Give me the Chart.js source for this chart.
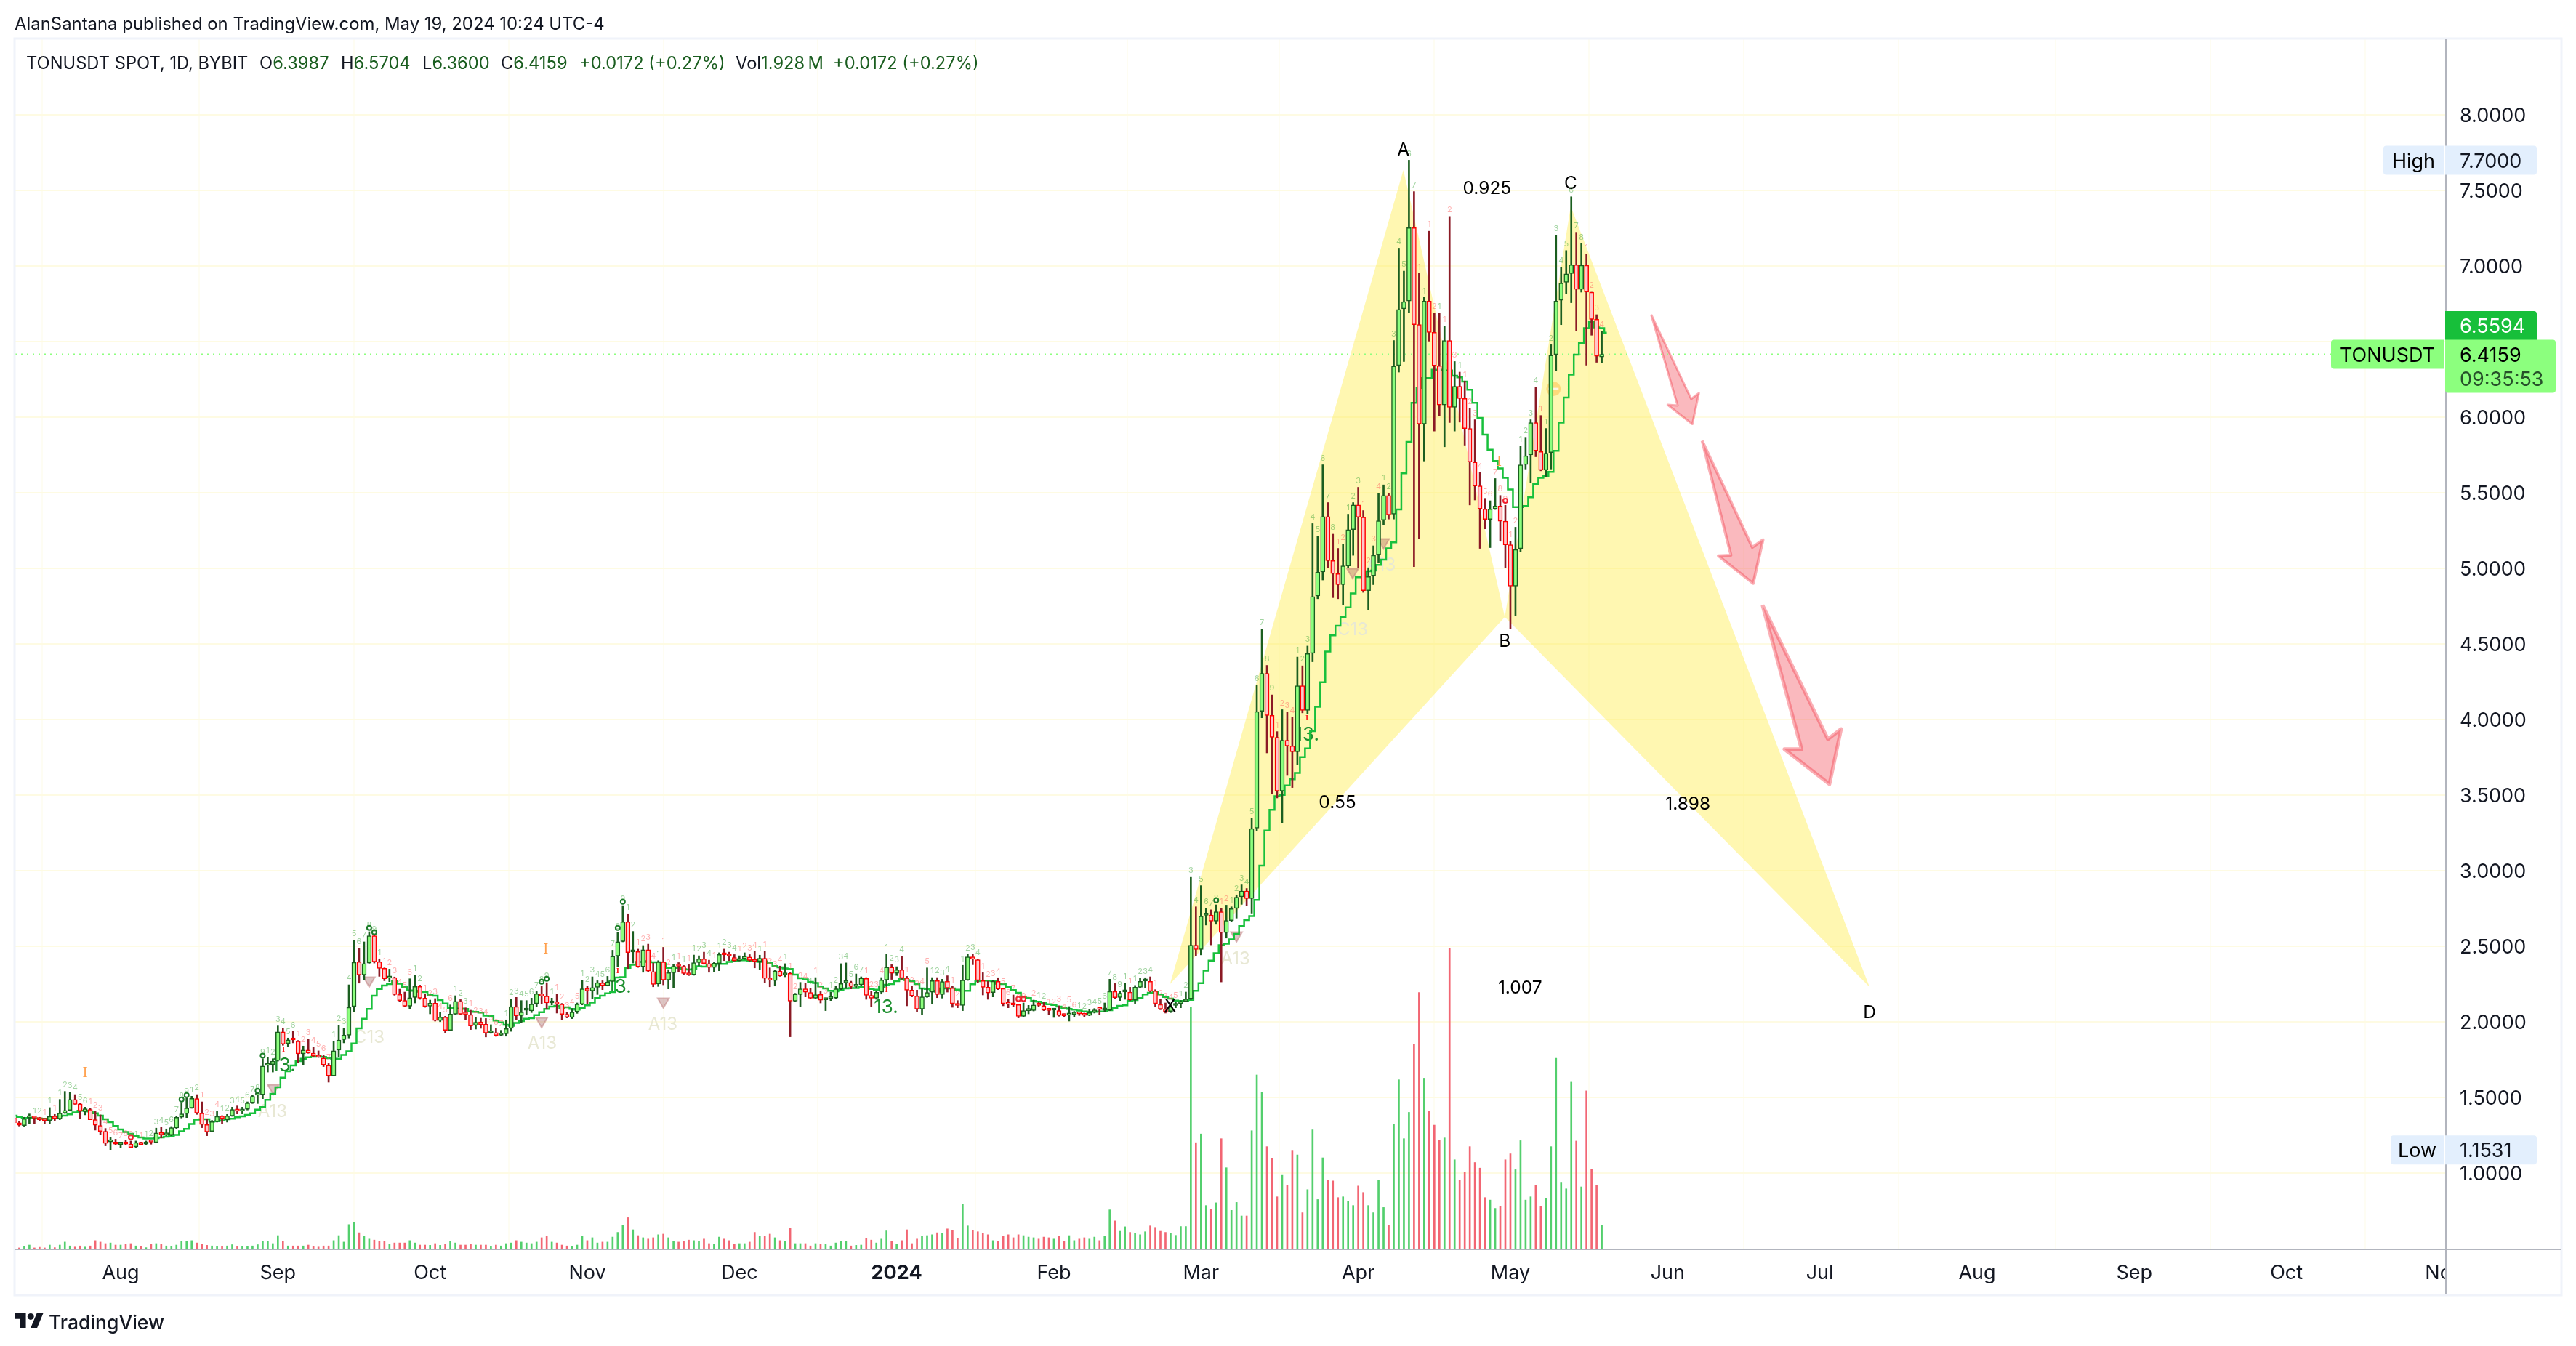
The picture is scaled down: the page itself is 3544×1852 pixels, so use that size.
<!DOCTYPE html>
<html>
<head>
<meta charset="utf-8">
<title>TONUSDT</title>
<script src="https://cdn.jsdelivr.net/npm/chart.js@4/dist/chart.umd.min.js"></script>
<style>
  html, body { margin: 0; padding: 0; background: #fff; }
  #wrap { position: relative; width: 3544px; height: 1852px; overflow: hidden; font-family: Inter, sans-serif; color: #131722; }
  canvas { position: absolute; left: 0; top: 0; }
  .txt { position: absolute; white-space: pre; line-height: 1; }
  .leg { top: 75px; font-size: 23.7px; }
  .up { color: #1b5e20; }
</style>
</head>
<body>
<div id="wrap">
  <canvas id="chart" width="3544" height="1852"></canvas>
  <div class="txt" id="published" style="left:20px;top:21px;font-size:23.9px">AlanSantana published on TradingView.com, May 19, 2024 10:24 UTC-4</div>
  <div class="txt leg" style="left:36px">TONUSDT SPOT, 1D, BYBIT</div>
  <div class="txt leg" style="left:357px">O<span class="up">6.3987</span></div>
  <div class="txt leg" style="left:469px">H<span class="up">6.5704</span></div>
  <div class="txt leg" style="left:581px">L<span class="up">6.3600</span></div>
  <div class="txt leg" style="left:689px">C<span class="up">6.4159</span></div>
  <div class="txt leg up" style="left:797px">+0.0172 (+0.27%)</div>
  <div class="txt leg" style="left:1012px">Vol<span class="up">1.928&thinsp;M</span></div>
  <div class="txt leg up" style="left:1146px">+0.0172 (+0.27%)</div>
  <svg style="position:absolute;left:20px;top:1807px" width="40" height="20" viewBox="0 0 36 18"><path fill="#131722" d="M14 18H7V7H0V0h14zM28 18h-8L27.5 0h8z"/><circle cx="20" cy="4" r="4" fill="#131722"/></svg>
  <div class="txt" id="brand" style="left:67px;top:1806px;font-size:26.5px;font-weight:500">TradingView</div>
</div>
<script>
// candles, one per day. x value = days since 2023-07-01
const firstDay = 10;
const opens = [
  1.364,1.332,1.314,1.365,1.369,1.359,1.356,1.348,1.377,1.359,
  1.397,1.415,1.487,1.457,1.407,1.420,1.353,1.314,1.276,1.206,
  1.204,1.189,1.205,1.191,1.173,1.200,1.192,1.212,1.202,1.266,
  1.252,1.252,1.298,1.369,1.393,1.431,1.492,1.396,1.321,1.276,
  1.340,1.377,1.353,1.378,1.420,1.410,1.422,1.465,1.515,1.519,
  1.712,1.718,1.744,1.933,1.856,1.887,1.872,1.789,1.813,1.793,
  1.772,1.761,1.712,1.644,1.813,1.883,1.912,2.101,2.397,2.311,
  2.389,2.569,2.397,2.354,2.289,2.293,2.181,2.141,2.104,2.162,
  2.234,2.157,2.104,2.123,2.009,2.032,1.944,2.051,2.136,2.056,
  2.048,1.976,2.000,1.984,1.928,1.929,1.912,1.921,1.957,2.101,
  2.041,2.076,2.072,2.120,2.186,2.170,2.125,2.133,2.118,2.050,
  2.029,2.067,2.117,2.218,2.205,2.229,2.258,2.239,2.267,2.436,
  2.532,2.662,2.462,2.465,2.365,2.477,2.333,2.250,2.396,2.277,
  2.325,2.373,2.368,2.320,2.312,2.392,2.417,2.386,2.360,2.386,
  2.449,2.443,2.425,2.405,2.417,2.429,2.407,2.399,2.420,2.288,
  2.273,2.335,2.310,2.321,2.138,2.181,2.218,2.194,2.157,2.181,
  2.146,2.154,2.158,2.218,2.258,2.261,2.234,2.245,2.287,2.175,
  2.157,2.196,2.277,2.362,2.321,2.345,2.290,2.210,2.172,2.085,
  2.165,2.196,2.273,2.181,2.268,2.224,2.120,2.109,2.277,2.430,
  2.411,2.273,2.229,2.194,2.268,2.221,2.122,2.118,2.114,2.037,
  2.074,2.075,2.114,2.107,2.080,2.077,2.074,2.046,2.044,2.050,
  2.056,2.048,2.042,2.064,2.086,2.078,2.077,2.202,2.162,2.198,
  2.197,2.146,2.229,2.270,2.268,2.205,2.115,2.085,2.069,2.108,
  2.120,2.136,2.153,2.507,2.479,2.705,2.706,2.666,2.728,2.590,
  2.670,2.750,2.827,2.865,2.815,3.282,4.055,4.305,4.027,3.882,
  3.527,3.862,3.825,3.787,4.223,4.060,4.438,4.818,4.976,5.342,
  5.051,4.965,4.892,5.016,5.256,5.419,5.338,4.853,4.951,5.090,
  5.319,5.482,5.358,6.342,6.717,6.768,7.253,6.612,5.955,6.768,
  6.561,6.340,6.081,6.507,6.065,6.204,6.123,5.925,5.703,5.545,
  5.393,5.324,5.393,5.412,5.312,5.156,4.883,5.130,5.687,5.750,
  5.964,5.773,5.650,5.766,6.414,6.773,6.892,6.950,7.008,6.845,
  7.004,6.827,6.647,6.3987
];
const highs = [
  1.388,1.340,1.369,1.391,1.369,1.369,1.359,1.433,1.388,1.487,
  1.540,1.535,1.519,1.460,1.436,1.431,1.407,1.385,1.295,1.236,
  1.224,1.205,1.218,1.212,1.212,1.205,1.212,1.220,1.297,1.303,
  1.292,1.308,1.375,1.468,1.497,1.508,1.519,1.471,1.356,1.348,
  1.412,1.380,1.388,1.436,1.444,1.436,1.471,1.513,1.522,1.756,
  1.764,1.756,1.973,1.957,1.893,1.936,1.877,1.840,1.885,1.832,
  1.808,1.781,1.724,1.873,1.976,1.957,2.245,2.539,2.486,2.529,
  2.596,2.571,2.417,2.357,2.349,2.297,2.216,2.197,2.285,2.308,
  2.243,2.181,2.144,2.154,2.061,2.037,2.112,2.173,2.147,2.093,
  2.077,2.032,2.024,2.022,1.981,1.955,1.944,2.013,2.149,2.162,
  2.141,2.141,2.157,2.200,2.237,2.259,2.157,2.183,2.122,2.064,
  2.088,2.125,2.274,2.237,2.298,2.272,2.272,2.301,2.474,2.590,
  2.769,2.715,2.598,2.481,2.505,2.514,2.389,2.405,2.493,2.346,
  2.381,2.392,2.373,2.378,2.442,2.437,2.461,2.408,2.394,2.457,
  2.481,2.461,2.445,2.437,2.457,2.445,2.465,2.441,2.469,2.357,
  2.340,2.369,2.385,2.325,2.189,2.261,2.258,2.221,2.293,2.200,
  2.158,2.197,2.234,2.385,2.390,2.269,2.317,2.298,2.293,2.205,
  2.205,2.293,2.450,2.378,2.365,2.433,2.301,2.234,2.210,2.221,
  2.357,2.293,2.293,2.282,2.305,2.234,2.141,2.374,2.446,2.449,
  2.414,2.325,2.269,2.276,2.292,2.224,2.152,2.178,2.118,2.125,
  2.109,2.144,2.133,2.128,2.090,2.090,2.106,2.053,2.101,2.069,
  2.064,2.058,2.085,2.088,2.093,2.125,2.282,2.253,2.205,2.258,
  2.229,2.241,2.289,2.292,2.298,2.213,2.148,2.125,2.117,2.133,
  2.141,2.197,2.956,2.761,2.901,2.752,2.741,2.774,2.752,2.772,
  2.761,2.840,2.906,2.882,3.348,4.229,4.597,4.358,4.163,3.920,
  4.065,4.049,4.014,4.413,4.355,4.486,5.296,5.214,5.685,5.435,
  5.226,5.132,5.160,5.358,5.435,5.536,5.382,5.004,5.149,5.498,
  5.552,5.498,6.507,7.118,6.966,7.700,7.493,6.950,6.792,7.230,
  6.689,6.687,6.601,7.328,6.368,6.298,6.239,6.060,5.983,5.633,
  5.463,5.447,5.594,5.482,5.417,5.179,5.272,5.808,5.867,5.983,
  6.197,6.011,5.925,6.479,7.202,6.992,7.102,7.458,7.223,7.148,
  7.078,6.827,6.678,6.5704
];
const lows = [
  1.324,1.311,1.308,1.324,1.327,1.343,1.324,1.327,1.348,1.353,
  1.394,1.410,1.455,1.361,1.385,1.353,1.284,1.252,1.180,1.153,
  1.188,1.170,1.188,1.167,1.170,1.185,1.188,1.191,1.199,1.232,
  1.247,1.247,1.292,1.364,1.367,1.428,1.388,1.300,1.247,1.272,
  1.337,1.324,1.337,1.375,1.391,1.391,1.417,1.460,1.460,1.492,
  1.668,1.668,1.740,1.845,1.837,1.861,1.728,1.716,1.792,1.768,
  1.764,1.704,1.601,1.644,1.769,1.861,1.893,2.069,2.256,2.277,
  2.388,2.389,2.301,2.272,2.266,2.176,2.133,2.101,2.085,2.125,
  2.149,2.096,2.053,2.005,2.001,1.929,1.944,2.048,2.048,2.013,
  1.949,1.952,1.957,1.900,1.924,1.904,1.910,1.905,1.937,2.013,
  1.992,2.048,2.061,2.101,2.117,2.088,2.112,2.058,2.016,2.026,
  2.021,2.056,2.112,2.120,2.154,2.181,2.213,2.237,2.265,2.365,
  2.529,2.352,2.389,2.360,2.328,2.333,2.232,2.234,2.245,2.218,
  2.226,2.330,2.314,2.306,2.308,2.372,2.381,2.328,2.333,2.338,
  2.405,2.405,2.402,2.402,2.413,2.400,2.357,2.346,2.261,2.232,
  2.237,2.301,2.298,1.901,2.136,2.098,2.165,2.154,2.154,2.125,
  2.074,2.141,2.154,2.213,2.221,2.218,2.224,2.237,2.149,2.098,
  2.149,2.184,2.233,2.281,2.306,2.282,2.106,2.165,2.064,2.045,
  2.162,2.120,2.160,2.157,2.197,2.096,2.093,2.074,2.274,2.378,
  2.257,2.178,2.149,2.165,2.213,2.106,2.093,2.101,2.026,2.034,
  2.053,2.072,2.101,2.074,2.048,2.029,2.037,2.032,2.005,2.034,
  2.042,2.032,2.040,2.058,2.045,2.069,2.074,2.154,2.141,2.149,
  2.141,2.122,2.224,2.226,2.197,2.098,2.080,2.058,2.061,2.093,
  2.093,2.133,2.148,2.435,2.443,2.640,2.509,2.645,2.264,2.554,
  2.665,2.686,2.777,2.766,2.719,3.262,4.011,3.779,3.509,3.481,
  3.319,3.630,3.550,3.699,4.044,4.036,4.382,4.799,4.923,5.004,
  4.806,4.799,4.760,5.004,5.086,5.004,4.841,4.725,4.892,5.039,
  5.289,5.326,5.326,6.298,6.368,6.689,5.011,5.198,5.710,6.503,
  5.908,6.011,5.804,5.964,5.908,5.967,5.815,5.419,5.452,5.132,
  5.261,5.137,5.389,5.179,5.004,4.601,4.685,5.109,5.657,5.568,
  5.738,5.645,5.603,5.657,6.305,6.612,6.815,6.757,6.573,6.827,
  6.344,6.542,6.363,6.36
];
const closes = [
  1.332,1.316,1.359,1.367,1.363,1.353,1.348,1.375,1.361,1.396,
  1.414,1.487,1.455,1.410,1.425,1.353,1.316,1.276,1.196,1.210,
  1.191,1.205,1.192,1.170,1.202,1.189,1.205,1.205,1.265,1.253,
  1.258,1.300,1.369,1.391,1.430,1.494,1.397,1.321,1.272,1.340,
  1.375,1.361,1.378,1.420,1.409,1.420,1.463,1.507,1.519,1.708,
  1.720,1.740,1.933,1.853,1.881,1.880,1.789,1.813,1.795,1.773,
  1.766,1.715,1.644,1.809,1.880,1.912,2.096,2.394,2.311,2.386,
  2.569,2.397,2.354,2.285,2.296,2.181,2.141,2.104,2.160,2.234,
  2.157,2.101,2.123,2.009,2.032,1.944,2.051,2.136,2.051,2.050,
  1.973,1.997,1.981,1.926,1.933,1.910,1.921,1.955,2.101,2.040,
  2.064,2.080,2.117,2.186,2.170,2.125,2.130,2.117,2.050,2.030,
  2.064,2.117,2.218,2.205,2.227,2.259,2.239,2.264,2.434,2.530,
  2.662,2.458,2.468,2.365,2.477,2.336,2.248,2.396,2.277,2.325,
  2.368,2.368,2.320,2.310,2.391,2.417,2.386,2.360,2.388,2.445,
  2.443,2.435,2.405,2.415,2.433,2.407,2.398,2.420,2.288,2.276,
  2.337,2.305,2.318,2.138,2.183,2.218,2.196,2.157,2.180,2.144,
  2.154,2.162,2.218,2.253,2.266,2.234,2.244,2.289,2.176,2.157,
  2.196,2.277,2.362,2.321,2.345,2.289,2.210,2.172,2.085,2.165,
  2.194,2.273,2.181,2.266,2.224,2.120,2.108,2.276,2.430,2.414,
  2.274,2.229,2.192,2.269,2.218,2.120,2.116,2.112,2.037,2.074,
  2.081,2.112,2.109,2.077,2.075,2.082,2.042,2.040,2.050,2.054,
  2.052,2.042,2.061,2.077,2.081,2.082,2.202,2.160,2.189,2.205,
  2.146,2.229,2.268,2.275,2.202,2.120,2.085,2.069,2.101,2.114,
  2.136,2.151,2.507,2.479,2.699,2.713,2.666,2.728,2.590,2.670,
  2.748,2.824,2.865,2.815,3.279,4.052,4.305,4.027,3.883,3.527,
  3.862,3.825,3.787,4.223,4.060,4.436,4.813,4.974,5.342,5.051,
  4.965,4.892,5.016,5.256,5.419,5.338,4.853,4.946,5.086,5.314,
  5.482,5.354,6.337,6.712,6.764,7.253,6.612,5.955,6.768,6.561,
  6.340,6.081,6.507,6.065,6.204,6.123,5.925,5.703,5.545,5.393,
  5.324,5.393,5.412,5.312,5.156,4.883,5.125,5.685,5.745,5.964,
  5.778,5.650,5.762,6.409,6.768,6.887,6.948,7.008,6.845,7.004,
  6.827,6.647,6.403,6.4159
];
// volume in millions
const volumes = [
  .07,.12,.24,.35,.12,.17,.12,.35,.14,.35,.59,
  .28,.19,.28,.19,.28,.71,.59,.47,.52,.35,
  .35,.42,.47,.28,.24,.14,.42,.47,.42,.28,
  .24,.35,.64,.66,.71,.52,.42,.33,.28,.24,
  .24,.28,.38,.24,.24,.24,.28,.38,.64,.64,
  .47,1.11,.64,.28,.28,.28,.28,.35,.24,.19,
  .28,.28,.71,1.11,.59,2.00,2.17,1.34,1.06,.83,
  .75,.66,.66,.42,.52,.52,.52,.71,.52,.35,
  .35,.33,.47,.33,.42,.66,.52,.35,.35,.42,
  .35,.35,.35,.24,.35,.28,.47,.52,.71,.59,
  .52,.47,.59,.94,1.06,.59,.52,.35,.28,.24,
  .35,
  1.06,.71,.94,.52,.59,.59,.99,1.37,1.93,2.55,
  1.58,1.11,.94,.83,.94,1.18,1.23,.94,.64,.59,
  .66,.75,.71,.66,.83,.47,.42,.99,.83,.71,
  .42,.47,.47,.59,1.37,1.06,1.06,1.23,.94,.71,
  .66,1.70,.47,.47,.47,.28,.47,.40,.40,.28,
  .52,.64,.64,.28,.33,.35,.87,.75,.52,.83,
  1.49,.66,.40,.71,1.58,.47,.83,1.06,1.11,1.18,
  1.34,1.30,1.65,1.53,.87,3.66,1.89,1.53,1.42,1.30,
  1.18,.71,.66,1.06,1.18,.94,1.18,1.11,.99,.94,
  .83,.99,.94,.83,1.06,.66,1.11,.71,.83,.94,
  .83,.99,.71,1.06,3.18,2.29,1.46,1.82,1.37,1.30,
  1.18,1.42,1.89,1.77,1.46,1.37,1.30,1.13,1.84,1.84,
  19.5,8.59,9.29,3.53,3.21,3.75,8.91,6.57,3.14,3.78,
  2.69,2.69,9.55,14.04,12.63,8.27,7.31,4.23,5.96,5.13,
  7.92,7.60,2.95,4.81,9.62,4.01,7.37,5.54,5.51,4.17,
  4.23,3.85,3.53,5.10,4.58,3.53,2.95,5.58,3.37,1.92,
  10.10,13.65,8.91,11.03,16.51,20.67,13.78,11.15,10.00,8.78,
  8.97,24.26,7.21,5.58,6.22,8.27,6.99,6.54,4.17,3.97,
  3.30,3.46,7.21,7.69,6.41,8.75,3.97,4.23,5.13,3.46,
  4.10,8.27,15.38,5.35,4.87,13.46,8.72,5.03,12.76,6.47,
  5.13,1.928
];
// green stepped line, runs one bar past the last candle
const stepLine = [
  1.380,1.372,1.364,1.364,1.362,1.361,1.359,1.359,1.364,1.375,
  1.380,1.388,1.401,1.412,1.412,1.407,1.396,1.380,1.356,1.337,
  1.311,1.288,1.272,1.260,1.244,1.236,1.228,1.228,1.231,1.236,
  1.240,1.244,1.252,1.276,1.292,1.324,1.353,1.356,1.356,1.340,
  1.343,1.348,1.356,1.359,1.369,1.375,1.385,1.396,1.420,1.436,
  1.484,1.524,1.567,1.631,1.673,1.712,1.740,1.756,1.766,1.769,
  1.772,1.768,1.760,1.753,1.756,1.781,1.805,1.857,1.957,2.021,
  2.085,2.173,2.218,2.240,2.250,2.269,2.253,2.229,2.208,2.205,
  2.200,2.197,2.178,2.173,2.144,2.122,2.093,2.088,2.088,2.085,
  2.069,2.066,2.061,2.041,2.037,2.009,1.997,1.981,1.973,1.993,
  2.005,2.021,2.024,2.045,2.064,2.085,2.101,2.106,2.093,2.096,
  2.085,2.080,2.090,2.109,2.128,2.157,2.173,2.189,2.197,2.293,
  2.296,2.357,2.378,2.397,2.397,2.402,2.394,2.394,2.386,2.357,
  2.357,2.357,2.349,2.346,2.349,2.368,2.365,2.378,2.378,2.384,
  2.384,2.397,2.405,2.407,2.407,2.405,2.405,2.397,2.400,2.389,
  2.369,2.361,2.353,2.350,2.313,2.289,2.281,2.265,2.257,2.234,
  2.221,2.205,2.202,2.213,2.221,2.224,2.224,2.229,2.229,2.218,
  2.213,2.229,2.245,2.250,2.269,2.282,2.277,2.269,2.250,2.221,
  2.218,2.205,2.200,2.221,2.221,2.221,2.213,2.205,2.205,2.249,
  2.269,2.273,2.273,2.269,2.253,2.250,2.229,2.210,2.192,2.165,
  2.157,2.138,2.133,2.125,2.117,2.112,2.101,2.093,2.085,2.080,
  2.074,2.069,2.066,2.066,2.069,2.069,2.077,2.093,2.106,2.109,
  2.141,2.144,2.157,2.181,2.192,2.197,2.181,2.165,2.154,2.141,
  2.138,2.138,2.145,2.206,2.256,2.339,2.405,2.454,2.507,2.517,
  2.546,2.582,2.633,2.673,2.699,2.807,3.034,3.266,3.403,3.493,
  3.501,3.564,3.605,3.647,3.751,3.809,3.923,4.084,4.246,4.449,
  4.557,4.620,4.678,4.741,4.834,4.941,4.946,4.981,4.986,5.023,
  5.058,5.132,5.172,5.389,5.629,5.836,6.095,6.193,6.258,6.258,
  6.314,6.314,6.309,6.309,6.274,6.263,6.235,6.181,6.095,5.995,
  5.885,5.785,5.710,5.661,5.598,5.522,5.405,5.405,5.412,5.470,
  5.559,5.598,5.610,5.638,5.778,5.964,6.130,6.281,6.414,6.491,
  6.589,6.629,6.594,6.589,6.5594
];

const priceTicks = [1,1.5,2,2.5,3,3.5,4,4.5,5,5.5,6,6.5,7,7.5,8];
const monthTicks = [31,62,92,123,153,184,215,244,275,305,336,366,397,428,458,489];
const monthLabels = ["Aug","Sep","Oct","Nov","Dec","2024","Feb","Mar","Apr","May","Jun","Jul","Aug","Sep","Oct","Nov"];

// harmonic pattern points (day, price)
const xabDays = [237.9,283.9,303.9,237.9];
const xabPrices = [2.25,7.635,4.678,2.25];
const bcdDays = [303.9,316.9,375.8,303.9];
const bcdPrices = [4.678,7.394,2.231,4.678];

// the three drawn arrows
const arrowDays = [
  [332.76,340.65,342.16,340.87,336.0,337.97,332.76],
  [342.8,352.7,354.8,352.87,346.0,348.5,342.8],
  [354.7,367.6,370.2,367.9,359.0,362.4,354.7]
];
const arrowPrices = [
  [6.678,6.120,6.159,5.954,6.082,6.077,6.678],
  [5.844,5.139,5.189,4.900,5.083,5.087,5.844],
  [4.757,3.870,3.937,3.572,3.804,3.804,4.757]
];

const lastPrice = 6.4159;
const triangleDays = [61.1,80,114,138,251,273.9,280];
const trianglePrices = [1.562,2.274,2.005,2.135,2.572,4.976,5.173];
const greenRingDays = [43,44,58,59,80,81,114,115,129,130,247];
const greenRingPrices = [1.487,1.516,1.545,1.776,2.622,2.593,2.266,2.285,2.622,2.795,2.804];
const redRingDays = [33,208,209,304];
const redRingPrices = [1.237,2.151,2.151,5.447];

const blackLabels = [["A",283.9,7.774],["B",303.9,4.524],["C",316.9,7.553],["D",375.8,2.067],["X",237.9,2.111],
  ["0.925",300.4,7.519],["0.55",270.9,3.457],["1.898",340,3.447],["1.007",306.9,2.231]];
const faintLabels = [["A13",60.95,1.413],["A13",114.1,1.865],["A13",137.9,1.990],["A13",250.8,2.423],["A13",279.5,5.029],
  ["C13",80,1.904],["C13",273.9,4.601]];
const greenLabels = [["13.",63.1,1.721],["13.",129.3,2.240],["13.",181.9,2.106],["13.",264.9,3.909]];
const orangeMarks = [[24,1.659],[114.8,2.476],[302.8,5.702]];
const redMarks = [[63.1,1.812],[129,2.332],[182,2.207],[264.9,4.005]];
const orangeDot = [313.5,6.187];

const barDays = opens.map((_, k) => firstDay + k);
const isUp = barDays.map((_, k) => closes[k] >= opens[k]);

const UI_FONT = "Inter, sans-serif";
const TEXT_NUDGE = 2; // Inter sits a little high on a middle baseline

function polygon(days, prices, style) {
  return Object.assign({
    type: "line",
    data: days.map((d, k) => ({ x: d, y: prices[k] })),
    fill: "shape",
    pointRadius: 0,
    tension: 0
  }, style);
}

function rings(days, prices, color, order) {
  return {
    type: "line", label: "rings", order, showLine: false,
    data: days.map((d, k) => ({ x: d, y: prices[k] })),
    pointStyle: "circle", pointRadius: 3, pointBorderWidth: 2,
    pointBackgroundColor: "rgba(255,255,255,0.4)", pointBorderColor: color
  };
}

function badge(ctx, x, y, w, h, color, radius) {
  ctx.fillStyle = color;
  ctx.beginPath();
  ctx.roundRect(x, y, w, h, radius);
  ctx.fill();
}

// push the axis labels down with the same nudge
function nudgeLabels(scale) {
  if (scale._nudged) return;
  scale._nudged = true;
  const draw = scale.drawLabels;
  scale.drawLabels = function (area) {
    this.ctx.save();
    this.ctx.translate(0, TEXT_NUDGE);
    draw.call(this, area);
    this.ctx.restore();
  };
}

const overlay = {
  id: "overlay",
  afterDatasetDraw(chart, args) {
    // faint study labels sit just above the yellow pattern
    if (chart.data.datasets[args.index].label !== "BCD") return;
    const { ctx, scales: { x, y } } = chart;
    ctx.save();
    ctx.textAlign = "center";
    ctx.textBaseline = "middle";
    ctx.font = "24px " + UI_FONT;
    ctx.fillStyle = "#e8e8d4";
    faintLabels.forEach(l => ctx.fillText(l[0], x.getPixelForValue(l[1]), y.getPixelForValue(l[2]) + TEXT_NUDGE));
    ctx.fillStyle = "#1d8f2f";
    ctx.font = "26px 'Liberation Sans Narrow', " + UI_FONT;
    greenLabels.forEach(l => ctx.fillText(l[0], x.getPixelForValue(l[1]), y.getPixelForValue(l[2]) + TEXT_NUDGE));
    // small orange circle with a bar through it
    const ox = x.getPixelForValue(orangeDot[0]), oy = y.getPixelForValue(orangeDot[1]);
    ctx.fillStyle = "rgba(255,152,0,0.3)";
    ctx.beginPath();
    ctx.arc(ox, oy, 10, 0, Math.PI * 2);
    ctx.fill();
    ctx.fillStyle = "rgba(255,255,255,0.8)";
    ctx.fillRect(ox - 7, oy - 1.5, 14, 3);
    ctx.restore();
  },
  afterDatasetsDraw(chart) {
    const { ctx, scales: { x, y }, chartArea } = chart;
    ctx.save();
    ctx.textAlign = "center";
    ctx.textBaseline = "middle";

    // setup counter above the candles
    ctx.font = "11px " + UI_FONT;
    let run = 0;
    barDays.forEach((d, k) => {
      if (k < 4) return;
      const dir = closes[k] > closes[k - 4] ? 1 : -1;
      run = (Math.sign(run) === dir && Math.abs(run) < 9) ? run + dir : dir;
      const px = x.getPixelForValue(d);
      if (px < chartArea.left + 3) return;
      ctx.fillStyle = run > 0 ? "rgba(46,160,46,0.45)" : "rgba(255,82,82,0.45)";
      ctx.fillText(String(Math.abs(run)), px, y.getPixelForValue(highs[k]) - 9);
    });

    ctx.fillStyle = "#ffa04d";
    ctx.font = "18px 'DejaVu Serif', serif";
    orangeMarks.forEach(m => ctx.fillText("I", x.getPixelForValue(m[0]), y.getPixelForValue(m[1])));
    ctx.fillStyle = "#ff2020";
    ctx.font = "bold 9px 'DejaVu Serif', serif";
    redMarks.forEach(m => ctx.fillText("I", x.getPixelForValue(m[0]), y.getPixelForValue(m[1])));

    ctx.fillStyle = "#000";
    ctx.font = "24.5px " + UI_FONT;
    blackLabels.forEach(l => ctx.fillText(l[0], x.getPixelForValue(l[1]), y.getPixelForValue(l[2]) + TEXT_NUDGE));
    ctx.restore();
  },
  afterDraw(chart) {
    const { ctx, chartArea: a, scales: { y } } = chart;
    ctx.save();
    // the last month label is cut off at the price scale
    ctx.fillStyle = "#fff";
    ctx.fillRect(a.right, a.bottom + 2, 3523 - a.right, 1781 - a.bottom - 2);
    // frame
    ctx.strokeStyle = "#f0f3fa";
    ctx.lineWidth = 3;
    ctx.strokeRect(a.left - 1, a.top - 1, 3524 - a.left + 1, 1782 - a.top + 1);
    // axis lines
    ctx.strokeStyle = "#b2b5be";
    ctx.lineWidth = 2;
    ctx.beginPath();
    ctx.moveTo(a.left, a.bottom); ctx.lineTo(3523, a.bottom);
    ctx.moveTo(a.right, a.top); ctx.lineTo(a.right, 1781);
    ctx.stroke();

    // badges on the price scale
    const yHigh = y.getPixelForValue(7.7), yLow = y.getPixelForValue(1.1531), yLast = y.getPixelForValue(lastPrice);
    const pale = "#e3effd", lime = "#8cff7e";
    badge(ctx, 3279, yHigh - 20, 83, 40, pale, [4, 0, 0, 4]);
    badge(ctx, 3364, yHigh - 20, 126, 40, pale, [0, 4, 4, 0]);
    badge(ctx, 3289, yLow - 20, 73, 40, pale, [4, 0, 0, 4]);
    badge(ctx, 3364, yLow - 20, 126, 40, pale, [0, 4, 4, 0]);
    badge(ctx, 3364, 428, 126, 40, "#17bf3a", [0, 4, 0, 0]);
    badge(ctx, 3207, yLast - 20, 155, 40, lime, [4, 0, 0, 4]);
    badge(ctx, 3364, yLast - 20, 152, 73, lime, [0, 4, 4, 4]);

    ctx.textBaseline = "middle";
    ctx.font = "27px " + UI_FONT;
    ctx.textAlign = "center";
    ctx.fillStyle = "#000";
    ctx.fillText("High", 3320.5, yHigh + TEXT_NUDGE);
    ctx.fillText("Low", 3325.5, yLow + TEXT_NUDGE);
    ctx.fillText("TONUSDT", 3284.5, yLast + TEXT_NUDGE);
    ctx.textAlign = "left";
    ctx.fillStyle = "#131722";
    ctx.fillText("7.7000", 3384, yHigh + TEXT_NUDGE);
    ctx.fillText("1.1531", 3384, yLow + TEXT_NUDGE);
    ctx.fillStyle = "#fff";
    ctx.fillText("6.5594", 3384, 448 + TEXT_NUDGE);
    ctx.fillStyle = "#000";
    ctx.fillText("6.4159", 3384, yLast + TEXT_NUDGE);
    ctx.fillStyle = "#27512a";
    ctx.fillText("09:35:53", 3384, yLast + 33 + TEXT_NUDGE);
    ctx.restore();
  }
};

const datasets = [
  polygon(xabDays, xabPrices, { label: "XAB", order: 21, backgroundColor: "rgba(255,235,59,0.4)", borderWidth: 0 }),
  polygon(bcdDays, bcdPrices, { label: "BCD", order: 20, backgroundColor: "rgba(255,235,59,0.4)", borderWidth: 0 }),
  ...arrowDays.map((days, n) => polygon(days, arrowPrices[n], {
    label: "arrow" + n, order: 19, backgroundColor: "rgba(242,54,69,0.35)",
    borderColor: "rgba(242,54,69,0.4)", borderWidth: 3 + n, borderJoinStyle: "round"
  })),
  {
    type: "line", label: "last", order: 18,
    data: [{ x: 10.22, y: lastPrice }, { x: 469.4, y: lastPrice }],
    borderColor: "#8cff7e", borderWidth: 2, borderDash: [2, 6], pointRadius: 0
  },
  {
    type: "bar", label: "volume", order: 17, yAxisID: "yVol", grouped: false,
    data: barDays.map((d, k) => ({ x: d, y: volumes[k] })),
    backgroundColor: isUp.map(u => u ? "#53cf6d" : "#f26673"),
    barThickness: 2
  },
  {
    type: "line", label: "triangles", order: 16, showLine: false,
    data: triangleDays.map((d, k) => ({ x: d, y: trianglePrices[k] })),
    pointStyle: "triangle", rotation: 180, pointRadius: 9,
    backgroundColor: "rgba(150,70,70,0.32)", borderColor: "rgba(190,120,120,0.5)", borderWidth: 2
  },
  {
    type: "line", label: "step", order: 12,
    data: stepLine.map((v, k) => ({ x: firstDay + k, y: v })),
    stepped: "middle", borderColor: "#18c03c", borderWidth: 2.5, pointRadius: 0
  },
  {
    type: "bar", label: "wicks", order: 11, grouped: false,
    data: barDays.map((d, k) => ({ x: d, y: [lows[k], highs[k]] })),
    backgroundColor: isUp.map(u => u ? "#1b5e20" : "#8b1a25"),
    barThickness: 2, minBarLength: 2
  },
  {
    type: "bar", label: "bodies", order: 10, grouped: false,
    data: barDays.map((d, k) => ({ x: d, y: [opens[k], closes[k]] })),
    backgroundColor: isUp.map(u => u ? "#8cff7e" : "#ffc7cc"),
    borderColor: isUp.map(u => u ? "#1b5e20" : "#ff0000"),
    borderWidth: 1.5, borderSkipped: false,
    barThickness: 6, minBarLength: 3
  },
  rings(greenRingDays, greenRingPrices, "#1b7a2a", 9),
  rings(redRingDays, redRingPrices, "#f01e2c", 9)
];

new Chart(document.getElementById("chart"), {
  type: "bar",
  data: { datasets },
  plugins: [overlay],
  options: {
    responsive: false,
    devicePixelRatio: 1,
    animation: false,
    layout: { padding: { left: 21, right: 20, top: 54, bottom: 70 } },
    plugins: { legend: { display: false }, title: { display: false }, tooltip: { enabled: false } },
    events: [],
    scales: {
      x: {
        type: "linear", min: 10.22, max: 489.44, offset: false,
        afterBuildTicks: s => { s.ticks = monthTicks.map(v => ({ value: v })); },
        afterFit: s => { s.height = 63; nudgeLabels(s); },
        grid: { color: "#fefdf3", lineWidth: 2, drawTicks: false },
        border: { display: false },
        ticks: {
          autoSkip: false, maxRotation: 0, padding: 15, color: "#131722",
          font: c => ({ family: UI_FONT, size: 27, weight: c.tick && c.tick.value === 184 ? "bold" : "normal" }),
          callback: v => monthLabels[monthTicks.indexOf(v)]
        }
      },
      y: {
        type: "linear", position: "right", min: 0.4952, max: 8.5,
        afterBuildTicks: s => { s.ticks = priceTicks.map(v => ({ value: v })); },
        afterFit: s => { s.width = 159; nudgeLabels(s); },
        grid: { color: "#fefbe3", lineWidth: 2, drawTicks: false },
        border: { display: false },
        ticks: {
          padding: 19, color: "#131722", font: { family: UI_FONT, size: 27 },
          callback: v => v.toFixed(4)
        }
      },
      yVol: { type: "linear", display: false, min: 0, max: 97.4 }
    }
  }
});
</script>
</body>
</html>
